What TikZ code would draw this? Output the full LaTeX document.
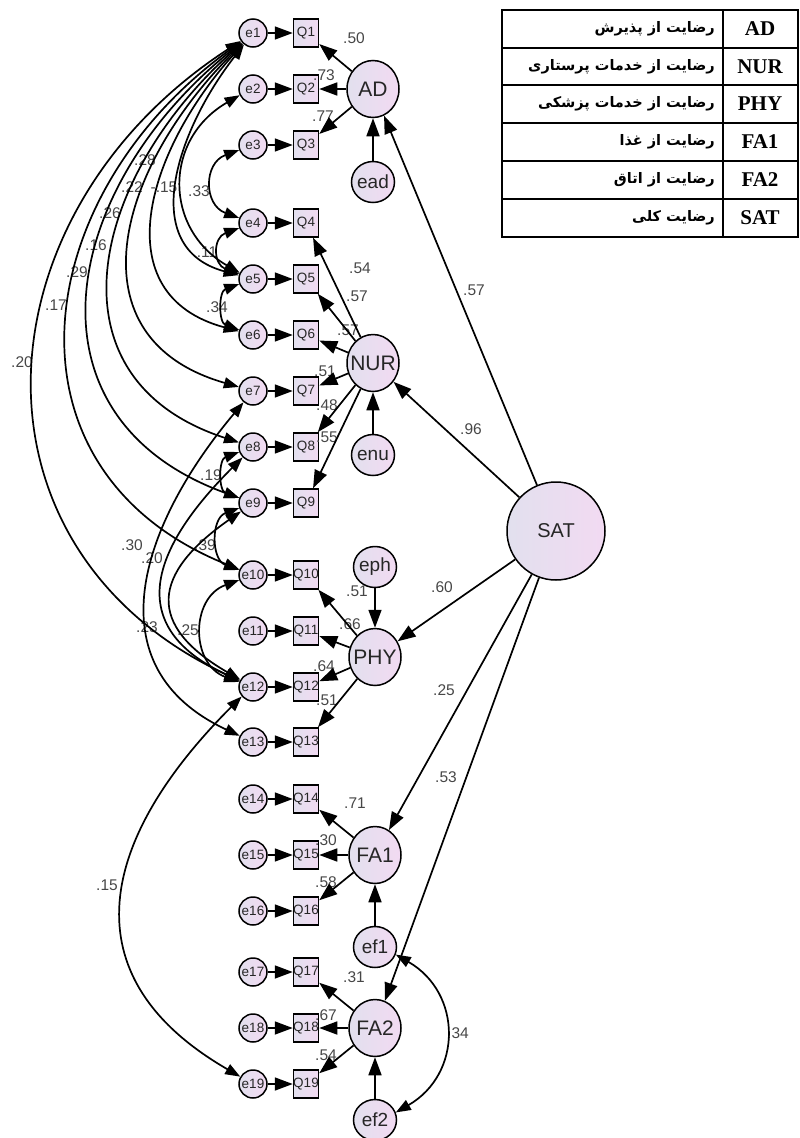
\documentclass[tikz,border=0pt]{standalone}
\usepackage{fontspec}
\setmainfont{Liberation Sans}
\newfontfamily\fafont[Script=Arabic]{DejaVu Sans}
\newfontfamily\tabfont{Liberation Serif}
\TeXXeTstate=1
\usetikzlibrary{arrows.meta,shapes.geometric}
\definecolor{lavl}{RGB}{226,224,238}
\definecolor{lavr}{RGB}{242,218,242}
\newcommand\zbx[1]{\makebox[0pt]{#1}}
\tikzset{
 lavfill/.style={left color=lavl,right color=lavr},
 errc/.style={circle,draw,line width=1.5pt,lavfill,minimum size=28pt,inner sep=0pt,font=\fontsize{13.5}{13.5}\selectfont,text=black!85},
 obs/.style={rectangle,draw,line width=1.5pt,lavfill,minimum width=25pt,minimum height=28pt,inner sep=0pt,font=\fontsize{13.5}{13.5}\selectfont,text=black!85},
 lat/.style={ellipse,draw,line width=1.5pt,lavfill,minimum width=52pt,minimum height=57pt,inner sep=0pt,font=\fontsize{21}{21}\selectfont,text=black!85},
 dst/.style={ellipse,draw,line width=1.5pt,lavfill,minimum width=43pt,minimum height=41pt,inner sep=0pt,font=\fontsize{19}{19}\selectfont,text=black!85},
 satn/.style={circle,draw,line width=1.5pt,lavfill,minimum size=98pt,inner sep=0pt,font=\fontsize{20}{20}\selectfont,text=black!85},
 lbl/.style={inner sep=0pt,font=\fontsize{15.5}{15.5}\selectfont,text=black!72},
 arr/.style={line width=1.7pt,-{Triangle[length=18pt,width=13pt]}},
 cov/.style={line width=1.7pt,{Triangle[length=15pt,width=11pt]}-{Triangle[length=15pt,width=11pt]}},
 fa/.style={anchor=east,inner sep=0pt,font=\fafont\bfseries\fontsize{14.5}{14.5}\selectfont},
 ab/.style={inner sep=0pt,font=\tabfont\bfseries\fontsize{21}{21}\selectfont},
}
\begin{document}
\begin{tikzpicture}[x=1pt,y=1pt]
\useasboundingbox (0,0) rectangle (800,-1138);
\fill[white] (0,0) rectangle (800,-1138);

% table
\draw[line width=1.5pt] (502,-10) rectangle (798,-237);
\draw[line width=1.3pt] (723,-10) -- (723,-237);
\foreach \yy in {48,85,123,161,199} \draw[line width=1.3pt] (502,-\yy) -- (798,-\yy);
\node[ab] (tAD) at (760,-29) {AD};
\node[ab] (tNUR) at (760,-66.5) {NUR};
\node[ab] (tPHY) at (760,-104) {PHY};
\node[ab] (tFA1) at (760,-142) {FA1};
\node[ab] (tFA2) at (760,-180) {FA2};
\node[ab] (tSAT) at (760,-218) {SAT};
\node[fa] (pAD) at (715,-29) {\beginR رضایت از پذیرش\endR};
\node[fa] (pNUR) at (715,-66.5) {\beginR رضایت از خدمات پرستاری\endR};
\node[fa] (pPHY) at (715,-104) {\beginR رضایت از خدمات پزشکی\endR};
\node[fa] (pFA1) at (715,-142) {\beginR رضایت از غذا\endR};
\node[fa] (pFA2) at (715,-180) {\beginR رضایت از اتاق\endR};
\node[fa] (pSAT) at (715,-218) {\beginR رضایت کلی\endR};

% error and observed nodes
\foreach \i/\yy in {1/33,2/89,3/145,4/223,5/279,6/335,7/391,8/447,9/503,10/575,11/631,12/687,13/742,14/799,15/855,16/911,17/972,18/1028,19/1084}{
 \node[errc] (e\i) at (253,-\yy) {\zbx{e\i}};
 \node[obs] (Q\i) at (306,-\yy) {\zbx{Q\i}};
}
% latent
\node[lat] (AD) at (373,-89) {\zbx{AD}};
\node[lat] (NUR) at (373,-363) {\zbx{NUR}};
\node[lat] (PHY) at (375,-657) {\zbx{PHY}};
\node[lat] (FA1) at (375,-855) {\zbx{FA1}};
\node[lat] (FA2) at (375,-1028) {\zbx{FA2}};
\node[dst] (ead) at (373,-182) {\zbx{ead}};
\node[dst] (enu) at (373,-455) {\zbx{enu}};
\node[dst] (eph) at (375,-567) {\zbx{eph}};
\node[dst] (ef1) at (375,-947) {\zbx{ef1}};
\node[dst] (ef2) at (375,-1120) {\zbx{ef2}};
\node[satn] (SAT) at (556,-531) {SAT};

% labels
\node[lbl] (l1) at (354,-38) {.50};
\node[lbl] (l2) at (324,-75) {.73};
\node[lbl] (l3) at (323,-116) {.77};
\node[lbl] (l4) at (360,-268) {.54};
\node[lbl] (l5) at (357,-296) {.57};
\node[lbl] (l6) at (348,-330) {.57};
\node[lbl] (l7) at (325,-371) {.51};
\node[lbl] (l8) at (327,-405) {.48};
\node[lbl] (l9) at (327,-437) {.55};
\node[lbl] (l10) at (357,-591) {.51};
\node[lbl] (l11) at (350,-624) {.66};
\node[lbl] (l12) at (324,-666) {.64};
\node[lbl] (l13) at (327,-700) {.51};
\node[lbl] (l14) at (355,-803) {.71};
\node[lbl] (l15) at (326,-840) {.30};
\node[lbl] (l16) at (326,-882) {.58};
\node[lbl] (l17) at (354,-977) {.31};
\node[lbl] (l18) at (326,-1015) {.67};
\node[lbl] (l19) at (326,-1055) {.54};
\node[lbl] (s1) at (474,-290) {.57};
\node[lbl] (s2) at (471,-429) {.96};
\node[lbl] (s3) at (442,-587) {.60};
\node[lbl] (s4) at (444,-690) {.25};
\node[lbl] (s5) at (446,-777) {.53};
\node[lbl] (s6) at (458,-1033) {.34};
\node[lbl] (c1) at (145,-160) {.28};
\node[lbl] (c2) at (132,-187) {.22};
\node[lbl] (c3) at (164,-187) {-.15};
\node[lbl] (c4) at (199,-191) {.33};
\node[lbl] (c5) at (110,-213) {.26};
\node[lbl] (c6) at (96,-245) {.16};
\node[lbl] (c7) at (77,-272) {.29};
\node[lbl] (c8) at (56,-305) {.17};
\node[lbl] (c9) at (22,-362) {.20};
\node[lbl] (c10) at (207,-252) {.11};
\node[lbl] (c11) at (217,-307) {.34};
\node[lbl] (c12) at (211,-475) {.19};
\node[lbl] (c13) at (205,-545) {.39};
\node[lbl] (c14) at (132,-545) {.30};
\node[lbl] (c15) at (152,-558) {.20};
\node[lbl] (c16) at (147,-627) {.23};
\node[lbl] (c17) at (188,-630) {.25};
\node[lbl] (c18) at (107,-885) {.15};

% e -> Q
\foreach \i in {1,...,19} \draw[arr] (e\i) -- (Q\i);
% latent -> Q
\foreach \i in {1,2,3} \draw[arr] (AD) -- (Q\i);
\foreach \i in {4,...,9} \draw[arr] (NUR) -- (Q\i);
\foreach \i in {10,...,13} \draw[arr] (PHY) -- (Q\i);
\foreach \i in {14,15,16} \draw[arr] (FA1) -- (Q\i);
\foreach \i in {17,18,19} \draw[arr] (FA2) -- (Q\i);
% disturbances
\draw[arr] (ead) -- (AD);
\draw[arr] (enu) -- (NUR);
\draw[arr] (eph) -- (PHY);
\draw[arr] (ef1) -- (FA1);
\draw[arr] (ef2) -- (FA2);
% SAT paths
\draw[arr] (SAT) -- (AD);
\draw[arr] (SAT) -- (NUR);
\draw[arr] (SAT) -- (PHY);
\draw[arr] (SAT) -- (FA1);
\draw[arr] (SAT) -- (FA2);

% covariances
\draw[cov] (e1.213) .. controls +(213:315) and +(155:315) .. (e12.155);
\draw[cov] (e1.216) .. controls +(216:265) and +(158:265) .. (e10.158);
\draw[cov] (e1.219) .. controls +(219:235) and +(160:235) .. (e9.160);
\draw[cov] (e1.222) .. controls +(222:205) and +(162:205) .. (e8.162);
\draw[cov] (e1.225) .. controls +(225:180) and +(164:175) .. (e7.164);
\draw[cov] (e1.228) .. controls +(228:145) and +(165:140) .. (e6.165);
\draw[cov] (e1.232) .. controls +(232:110) and +(165:105) .. (e5.165);
\draw[cov] (e2.205) .. controls +(210:88) and +(150:88) .. (e5.155);
\draw[cov] (e3.200) .. controls +(200:38) and +(160:38) .. (e4.160);
\draw[cov] (e4.200) .. controls +(200:28) and +(160:28) .. (e5.160);
\draw[cov] (e5.200) .. controls +(200:22) and +(160:22) .. (e6.160);
\draw[cov] (e8.200) .. controls +(200:22) and +(160:22) .. (e9.160);
\draw[cov] (e9.200) .. controls +(200:30) and +(160:30) .. (e10.160);
\draw[cov] (e10.200) .. controls +(200:52) and +(160:52) .. (e12.160);
\draw[cov] (e7.230) .. controls +(230:162) and +(155:162) .. (e13.155);
\draw[cov] (e8.225) .. controls +(225:129) and +(155:129) .. (e12.155);
\draw[cov] (e9.215) .. controls +(215:109) and +(150:109) .. (e12.150);
\draw[cov] (e12.220) .. controls +(225:201) and +(150:201) .. (e19.150);
\draw[cov] (ef1.-20) .. controls +(-30:77) and +(30:77) .. (ef2.20);
\end{tikzpicture}
\end{document}
